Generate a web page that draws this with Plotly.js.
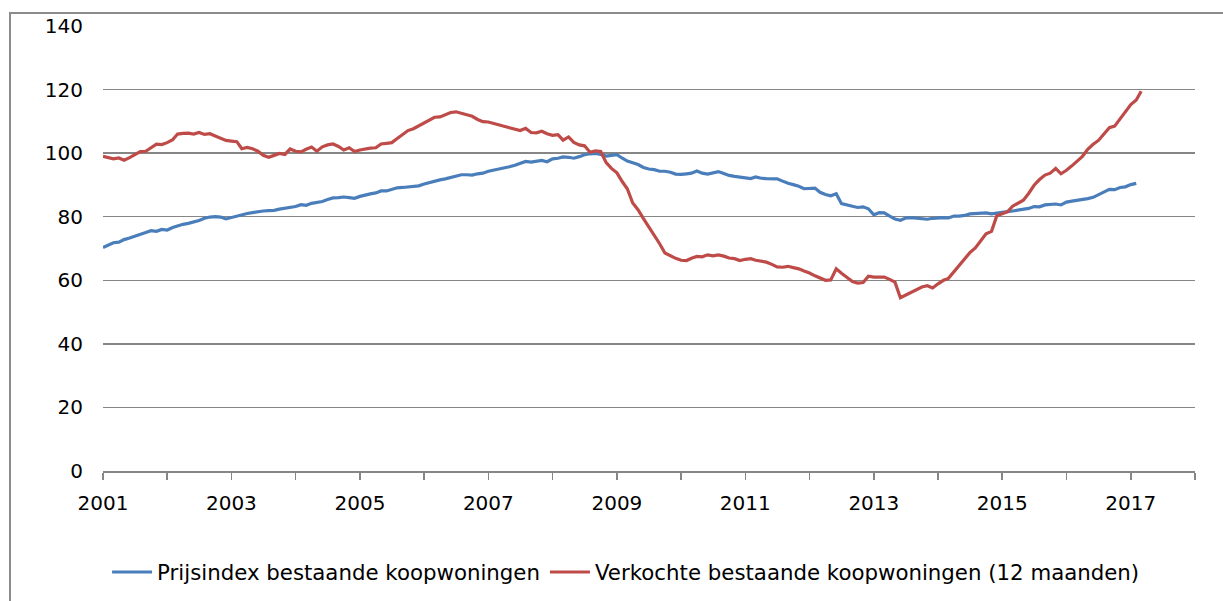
<!DOCTYPE html>
<html>
<head>
<meta charset="utf-8">
<script src="https://cdn.plot.ly/plotly-3.0.1.min.js"></script>
<style>
  body { margin: 0; background: #fff; }
  #chart { position: absolute; left: 0; top: 0; width: 1223px; height: 601px; }
  #frame { position: absolute; left: 9px; top: 12px; width: 1400px; height: 800px;
           border: 2px solid #8c8c8c; pointer-events: none; }
</style>
</head>
<body>
<div id="chart"></div>
<div id="frame"></div>
<script>
/**
 * Colors
 */
const blue = "#4A7EBB";      // Prijsindex
const red = "#BE4B48";       // Verkochte woningen
const gridColor = "#868686";
const fontFamily = "Verdana, 'DejaVu Sans', sans-serif";

/**
 * Monthly series, starting January 2001
 */
const startYear = 2001;

const prijsindex = [
  70.3, 71.2, 71.8, 72.0, 72.8, 73.3, 73.8, 74.4, 75.0, 75.6, 75.4, 76.0,
  75.8, 76.6, 77.2, 77.6, 77.9, 78.3, 78.8, 79.5, 79.9, 80.0, 79.9, 79.3,
  79.8, 80.3, 80.6, 81.0, 81.3, 81.6, 81.8, 81.9, 82.0, 82.4, 82.7, 82.9,
  83.2, 83.8, 83.6, 84.2, 84.5, 84.8, 85.4, 85.9, 86.0, 86.2, 86.0, 85.8,
  86.4, 86.9, 87.2, 87.5, 88.1, 88.1, 88.7, 89.1, 89.2, 89.3, 89.4, 89.7,
  90.3, 90.8, 91.2, 91.6, 91.9, 92.3, 92.9, 93.2, 93.2, 93.1, 93.5, 93.7,
  94.3, 94.6, 95.0, 95.3, 95.7, 96.2, 96.7, 97.4, 97.2, 97.4, 97.7, 97.3,
  98.2, 98.4, 98.8, 98.7, 98.4, 98.9, 99.5, 99.8, 99.9, 99.6, 99.1, 99.3,
  99.5, 98.4, 97.5, 97.0, 96.4, 95.5, 95.0, 94.8, 94.3, 94.3, 94.0, 93.4,
  93.3, 93.5, 93.7, 94.4, 93.7, 93.4, 93.9, 94.2, 93.6, 93.0, 92.7, 92.5,
  92.4, 92.0, 92.5, 92.1, 92.0, 91.9, 91.9, 91.2, 90.5, 90.1, 89.6, 88.8,
  89.0, 89.0, 87.7, 87.0, 86.6, 87.2, 84.1, 83.6, 83.3, 82.9, 83.1, 82.5,
  80.6, 81.3, 81.2, 80.2, 79.3, 78.9, 79.6, 79.7, 79.5, 79.3, 79.2, 79.5,
  79.7, 79.7, 79.6, 80.2, 80.2, 80.4, 80.9, 81.0, 81.0, 81.2, 80.9, 81.2,
  81.4, 81.6, 81.8, 82.0, 82.2, 82.6, 83.2, 83.1, 83.7, 83.9, 84.0, 83.7,
  84.6, 84.9, 85.1, 85.4, 85.7, 86.1, 86.9, 87.6, 88.6, 88.5, 89.2, 89.4,
  90.1, 90.5
];

const verkocht = [
  99.0, 98.5, 98.2, 98.5, 97.8, 98.6, 99.4, 100.5, 100.6, 101.6, 102.8, 102.7,
  103.3, 104.2, 106.0, 106.2, 106.3, 106.0, 106.5, 105.9, 106.1, 105.4, 104.6, 104.0,
  103.8, 103.6, 101.4, 101.8, 101.4, 100.6, 99.3, 98.7, 99.3, 99.9, 99.6, 101.3,
  100.6, 100.4, 101.2, 101.9, 100.6, 102.0, 102.6, 102.9, 102.1, 101.0, 101.7, 100.5,
  101.0, 101.4, 101.6, 101.7, 102.9, 103.1, 103.3, 104.6, 106.0, 107.1, 107.7, 108.6,
  109.5, 110.4, 111.3, 111.4, 112.1, 112.8, 113.0, 112.6, 112.0, 111.6, 110.6, 109.9,
  109.8, 109.3, 108.9, 108.5, 108.0, 107.6, 107.1, 107.8, 106.5, 106.4, 106.9, 106.1,
  105.6, 105.8, 104.1, 105.1, 103.4, 102.6, 102.3, 100.3, 100.7, 100.5, 97.0, 95.2,
  93.8, 91.0, 88.8, 84.3, 82.2, 79.4, 76.9, 74.4, 71.5, 68.6, 67.6, 66.9,
  66.3, 66.2, 66.9, 67.5, 67.4, 68.0, 67.7, 68.0, 67.6, 67.0, 66.8, 66.2,
  66.6, 66.8, 66.3, 65.9, 65.7, 65.0, 64.2, 64.1, 64.4, 64.0, 63.6, 62.9,
  62.3, 61.4, 60.6, 60.0, 60.1, 63.6, 62.2, 60.9, 59.6, 59.1, 59.3, 61.3,
  61.0, 61.0, 61.0, 60.3, 59.4, 54.5, 55.3, 56.2, 57.2, 57.9, 58.3, 57.6,
  58.9, 60.0, 60.6, 62.6, 64.7, 66.5, 68.7, 70.2, 72.6, 74.6, 75.4, 80.3,
  80.9, 81.6, 83.3, 84.3, 85.2, 87.4, 89.9, 91.7, 93.1, 93.7, 95.2, 93.5,
  94.6, 96.0, 97.6, 99.0, 101.2, 102.8, 104.0, 106.0, 108.0, 108.5, 110.7, 113.1,
  115.3, 116.7, 119.5
];

const seriesNames = [
  "Prijsindex bestaande koopwoningen",
  "Verkochte bestaande koopwoningen (12 maanden)"
];

const xRange = ["2001-01-01", "2018-01-01"];
const yTicks = [0, 20, 40, 60, 80, 100, 120, 140];

/**
 * Month labels (YYYY-MM-01) for a series of n months
 */
function monthDates(n) {
  let out = [];
  for (let i = 0; i < n; i++) {
    let y = startYear + Math.floor(i / 12);
    let m = (i % 12) + 1;
    out.push(y + "-" + (m < 10 ? "0" + m : m) + "-01");
  }
  return out;
}

function drawChart() {
  var index = {
    x: monthDates(prijsindex.length),
    y: prijsindex,
    mode: 'lines',
    name: seriesNames[0],
    line: { color: blue, width: 3.2 }
  };

  var sold = {
    x: monthDates(verkocht.length),
    y: verkocht,
    mode: 'lines',
    name: seriesNames[1],
    line: { color: red, width: 3.2 }
  };

  var layout = {
    width: 1223,
    height: 601,
    margin: { l: 103, r: 28, t: 26, b: 130 },
    paper_bgcolor: 'rgba(0,0,0,0)',
    plot_bgcolor: '#fff',
    font: { family: fontFamily, size: 20, color: '#000' },
    showlegend: true,
    legend: {
      orientation: 'h',
      x: 0.479,
      xanchor: 'center',
      yref: 'container',
      y: 0.048,
      yanchor: 'middle',
      font: { family: fontFamily, size: 21.3, color: '#000' },
      itemwidth: 40
    },
    xaxis: {
      type: 'date',
      range: xRange,
      tick0: '2001-01-01',
      dtick: 'M24',
      tickformat: '%Y',
      ticks: 'outside',
      ticklen: 7,
      tickwidth: 1.5,
      tickcolor: gridColor,
      ticklabelstandoff: 6,
      showline: true,
      linecolor: gridColor,
      linewidth: 1.5,
      showgrid: false,
      zeroline: false,
      minor: {
        dtick: 'M12',
        ticks: 'outside',
        ticklen: 7,
        tickwidth: 1.5,
        tickcolor: gridColor,
        showgrid: false
      },
      tickfont: { family: fontFamily, size: 20, color: '#000' }
    },
    yaxis: {
      range: [0, 140],
      tickvals: yTicks,
      showgrid: true,
      gridcolor: gridColor,
      gridwidth: 1.5,
      zeroline: false,
      showline: false,
      ticks: '',
      ticklabelstandoff: 19,
      tickfont: { family: fontFamily, size: 20, color: '#000' }
    }
  };

  Plotly.newPlot('chart', [index, sold], layout, { staticPlot: true });
}

drawChart();
</script>
</body>
</html>
